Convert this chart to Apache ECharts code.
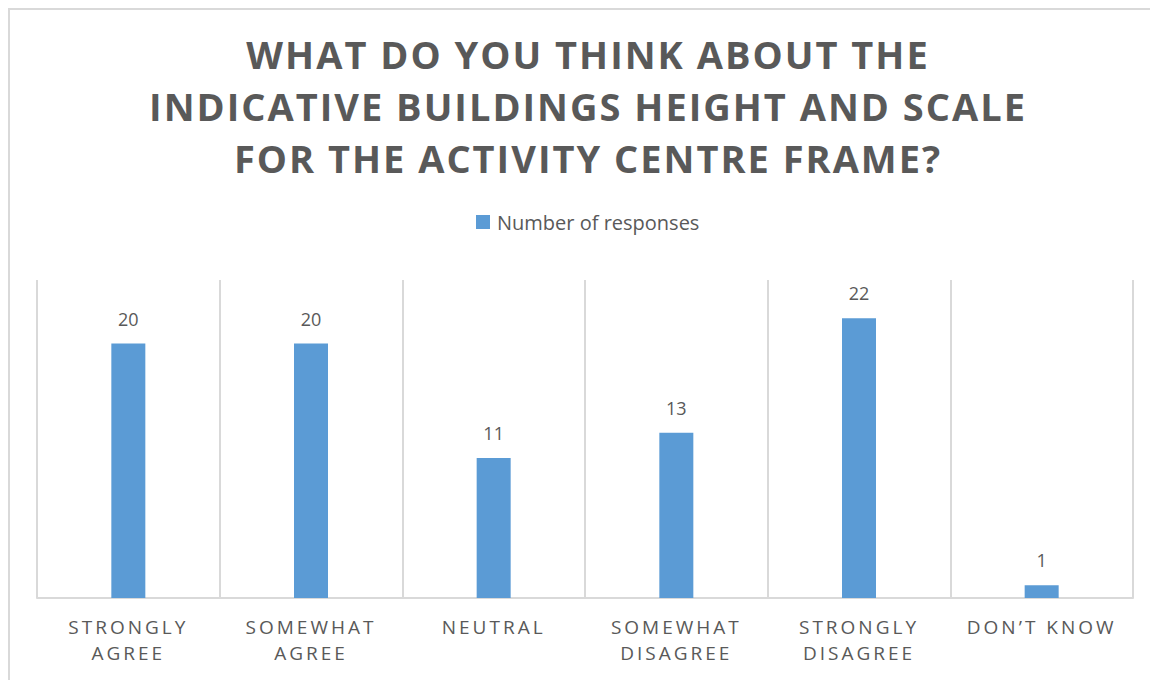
<!DOCTYPE html>
<html>
<head>
<meta charset="utf-8">
<script src="https://cdn.jsdelivr.net/npm/echarts@6/dist/echarts.min.js"></script>
<style>
  html, body { margin: 0; padding: 0; background: #fff; }
  #chart { width: 1150px; height: 680px; }
  #chart text[style*="38px"] { letter-spacing: 2px; }
  #chart text[style*="19px"] { letter-spacing: 3px; }
</style>
</head>
<body>
<div id="chart"></div>
<script>
const titleLines = [
  'WHAT DO YOU THINK ABOUT THE',
  'INDICATIVE BUILDINGS HEIGHT AND SCALE',
  'FOR THE ACTIVITY CENTRE FRAME?'
];
const categories = [
  'STRONGLY\nAGREE',
  'SOMEWHAT\nAGREE',
  'NEUTRAL',
  'SOMEWHAT\nDISAGREE',
  'STRONGLY\nDISAGREE',
  'DON\u2019T KNOW'
];
const seriesName = 'Number of responses';
const responses = [20, 20, 11, 13, 22, 1];

const chart = echarts.init(document.getElementById('chart'), null, { renderer: 'svg' });
chart.setOption({
  animation: false,
  backgroundColor: '#ffffff',
  title: {
    text: titleLines.join('\n'),
    left: 583,
    textAlign: 'center',
    top: 23,
    textStyle: {
      fontFamily: 'Open Sans',
      fontWeight: 'bold',
      fontSize: 38,
      lineHeight: 52,
      color: '#595959'
    }
  },
  legend: {
    data: [seriesName],
    left: 476,
    top: 212,
    padding: 0,
    icon: 'rect',
    itemWidth: 14,
    itemHeight: 14,
    textStyle: {
      fontFamily: 'Open Sans',
      fontSize: 20,
      color: '#595959',
      padding: [0, 0, 0, 2]
    }
  },
  graphic: [{
    type: 'rect',
    silent: true,
    shape: { x: 9, y: 9, width: 1200, height: 700 },
    style: { fill: 'none', stroke: '#d9d9d9', lineWidth: 2 }
  }],
  grid: { left: 37, right: 17, top: 280, bottom: 82, containLabel: false },
  xAxis: {
    type: 'category',
    data: categories,
    axisLine: { show: true, lineStyle: { color: '#d9d9d9', width: 2 } },
    axisTick: { show: false },
    splitLine: { show: true, lineStyle: { color: '#d9d9d9', width: 2 } },
    axisLabel: {
      interval: 0,
      margin: 16,
      fontFamily: 'Open Sans',
      fontSize: 19,
      lineHeight: 26,
      color: '#595959'
    }
  },
  yAxis: {
    type: 'value',
    min: 0,
    max: 25,
    show: false,
    splitLine: { show: false }
  },
  series: [{
    name: seriesName,
    type: 'bar',
    data: responses,
    barWidth: 34,
    itemStyle: { color: '#5b9bd5' },
    label: {
      show: true,
      position: 'top',
      distance: 16,
      fontFamily: 'Open Sans',
      fontSize: 18,
      color: '#595959'
    }
  }]
});
</script>
</body>
</html>
